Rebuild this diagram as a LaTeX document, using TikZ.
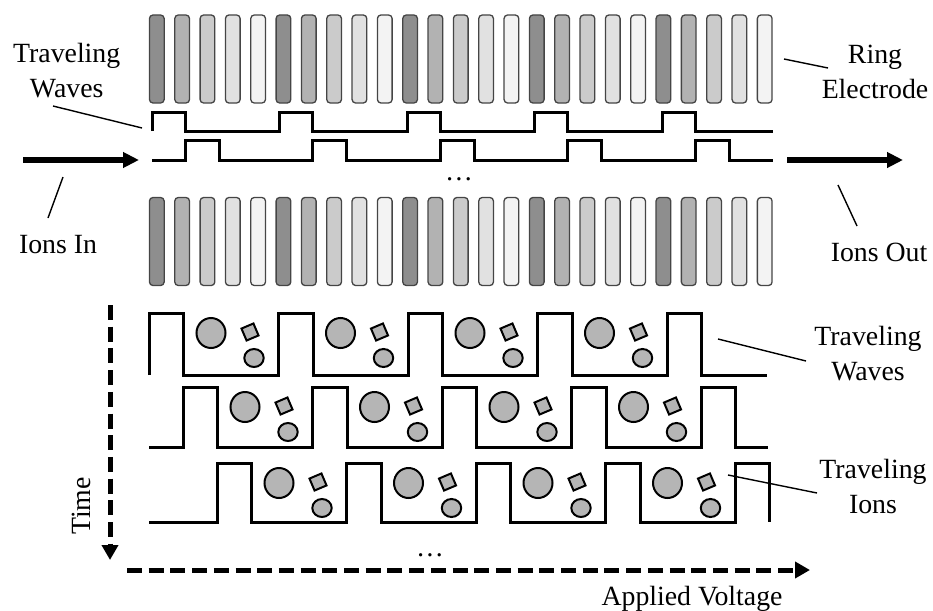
\documentclass[tikz,border=0pt]{standalone}
\usepackage{fontspec}
\setmainfont{Liberation Serif}
\usepackage{tikz}
\usetikzlibrary{arrows.meta,positioning,calc}
\definecolor{ring0}{HTML}{8E8E8E}
\definecolor{ring1}{HTML}{B2B2B2}
\definecolor{ring2}{HTML}{CBCBCB}
\definecolor{ring3}{HTML}{E1E1E1}
\definecolor{ring4}{HTML}{F3F3F3}
\definecolor{rimGray}{HTML}{454545}
\definecolor{ionGray}{HTML}{B5B5B5}

\begin{document}
\begin{tikzpicture}[x=1pt, y=-1pt, font=\fontsize{27.8}{35}\selectfont,
  ring/.style={draw=rimGray, line width=1.3pt, rounded corners=3.5pt, minimum width=14.7pt, minimum height=88pt, inner sep=0pt},
  wave/.style={line width=3pt, line join=miter},
  lead/.style={line width=1.4pt},
  flow/.style={line width=6pt, -{Triangle[length=16pt,width=15pt]}},
  axisarr/.style={line width=5pt, dash pattern=on 15pt off 6.7pt, -{Triangle[length=15pt,width=16pt]}},
  ion/.style={draw, line width=2pt, fill=ionGray},
  lbl/.style={align=center, inner sep=0pt, anchor=north}]
\useasboundingbox (0,0) rectangle (933,610);

\foreach \i [evaluate=\i as \k using {int(mod(\i,5))}] in {0,...,24} {
  \node[ring, fill=ring\k] (top\i) at ({156.8+25.33*\i},59) {};
  \node[ring, fill=ring\k] (bot\i) at ({156.8+25.33*\i},241.5) {};
}

\draw[wave] (152,131) \foreach \k in {0,...,4} { -- ({152+127.5*\k},131) -- ++(0,-19) -- ++(33,0) -- ++(0,19) } -- (773,131);
\draw[wave] (152,160) \foreach \k in {0,...,4} { -- ({185+127.5*\k},160) -- ++(0,-20) -- ++(34,0) -- ++(0,20) } -- (773,160);
\node (dotsTop) at (459,179) {\dots};

\coordinate (inStart) at (23,160);
\coordinate (inEnd) at (139,160);
\coordinate (outStart) at (787,160);
\coordinate (outEnd) at (903,160);
\draw[flow] (inStart) -- (inEnd);
\draw[flow] (outStart) -- (outEnd);

\foreach \r/\t/\b/\e in {0/313/375/767, 1/387/447/768, 2/463/522/769.5} {
  \draw[wave] (149,\b) \foreach \k in {0,...,4} { -- ({149+34*\r+129.5*\k},\b) -- ({149+34*\r+129.5*\k},\t) -- ({183.5+34*\r+129.5*\k},\t) -- ({183.5+34*\r+129.5*\k},\b) } -- (\e,\b);
  \foreach \k [evaluate=\k as \c using {231+34*\r+129.5*\k}] in {0,...,3} {
    \draw[ion] (\c-20,\t+20) ellipse [x radius=14.5pt, y radius=15pt];
    \node[ion, minimum size=13pt, inner sep=0pt, rotate=23] at (\c+19,\t+19) {};
    \draw[ion] (\c+23,\t+45) ellipse [x radius=9.7pt, y radius=9pt];
  }
}
\node (dotsBot) at (430,555) {\dots};

\coordinate (timeStart) at (110,305);
\coordinate (timeEnd) at (110,560);
\coordinate (voltStart) at (127,570);
\coordinate (voltEnd) at (810,570);
\draw[axisarr] (timeStart) -- (timeEnd);
\draw[axisarr] (voltStart) -- (voltEnd);

\node[lbl] (twTop) at (66.7,43.5) {Traveling\\Waves};
\node[lbl] (ionsIn) at (58,235) {Ions In};
\node[lbl] (ringEl) at (875,44.5) {Ring\\Electrode};
\node[lbl] (ionsOut) at (879,242.7) {Ions Out};
\node[lbl] (twBot) at (868,326) {Traveling\\Waves};
\node[lbl] (tIons) at (873,459.5) {Traveling\\Ions};
\node[rotate=90, anchor=base, inner sep=0pt] (time) at (90,506) {Time};
\node[anchor=base, inner sep=0pt] (volt) at (692,605) {Applied Voltage};

\coordinate (twTopA) at (53,106);  \coordinate (twTopB) at (142,128);
\coordinate (ionsInA) at (63,177); \coordinate (ionsInB) at (48,218);
\coordinate (ringElA) at (784,59); \coordinate (ringElB) at (828,68);
\coordinate (ionsOutA) at (838,185); \coordinate (ionsOutB) at (857,226);
\coordinate (twBotA) at (718,339); \coordinate (twBotB) at (806,361);
\coordinate (tIonsA) at (728,475); \coordinate (tIonsB) at (817,493);
\draw[lead] (twTopA) -- (twTopB);
\draw[lead] (ionsInA) -- (ionsInB);
\draw[lead] (ringElA) -- (ringElB);
\draw[lead] (ionsOutA) -- (ionsOutB);
\draw[lead] (twBotA) -- (twBotB);
\draw[lead] (tIonsA) -- (tIonsB);
\end{tikzpicture}
\end{document}
